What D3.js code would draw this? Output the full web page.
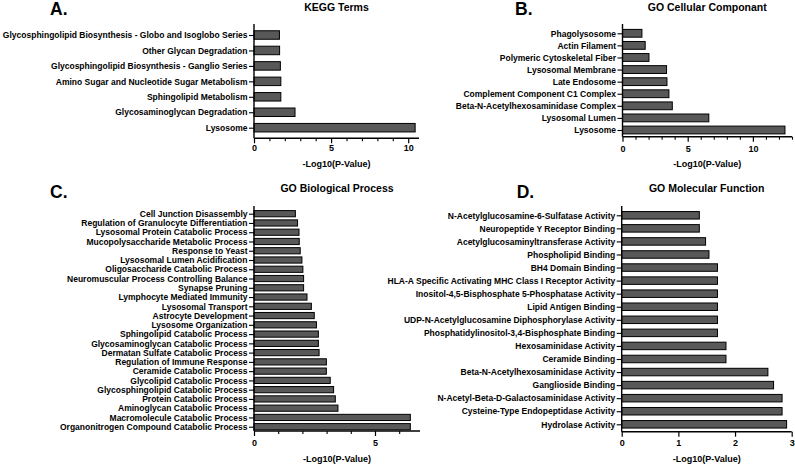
<!DOCTYPE html>
<html><head><meta charset="utf-8">
<script src="https://cdn.jsdelivr.net/npm/d3@7"></script>
<style>
html,body{margin:0;padding:0;background:#fff;}
svg{display:block;font-family:"Liberation Sans",Arial,sans-serif;}
</style></head>
<body>
<svg id="chart" width="795" height="464"></svg>
<script>
// ---------- DATA ----------
const keggTerms = ["Glycosphingolipid Biosynthesis - Globo and Isoglobo Series","Other Glycan Degradation","Glycosphingolipid Biosynthesis - Ganglio Series","Amino Sugar and Nucleotide Sugar Metabolism","Sphingolipid Metabolism","Glycosaminoglycan Degradation","Lysosome"];
const keggValues = [1.65,1.66,1.71,1.74,1.74,2.66,10.45];

const ccTerms = ["Phagolysosome","Actin Filament","Polymeric Cytoskeletal Fiber","Lysosomal Membrane","Late Endosome","Complement Component C1 Complex","Beta-N-Acetylhexosaminidase Complex","Lysosomal Lumen","Lysosome"];
const ccValues = [1.49,1.74,2.03,3.38,3.41,3.56,3.82,6.62,12.46];

const bpTerms = ["Cell Junction Disassembly","Regulation of Granulocyte Differentiation","Lysosomal Protein Catabolic Process","Mucopolysaccharide Metabolic Process","Response to Yeast","Lysosomal Lumen Acidification","Oligosaccharide Catabolic Process","Neuromuscular Process Controlling Balance","Synapse Pruning","Lymphocyte Mediated Immunity","Lysosomal Transport","Astrocyte Development","Lysosome Organization","Sphingolipid Catabolic Process","Glycosaminoglycan Catabolic Process","Dermatan Sulfate Catabolic Process","Regulation of Immune Response","Ceramide Catabolic Process","Glycolipid Catabolic Process","Glycosphingolipid Catabolic Process","Protein Catabolic Process","Aminoglycan Catabolic Process","Macromolecule Catabolic Process","Organonitrogen Compound Catabolic Process"];
const bpValues = [1.71,1.80,1.86,1.87,1.91,1.98,2.02,2.05,2.05,2.19,2.37,2.49,2.58,2.66,2.66,2.69,2.99,2.99,3.15,3.29,3.36,3.47,6.46,6.46];

const mfTerms = ["N-Acetylglucosamine-6-Sulfatase Activity","Neuropeptide Y Receptor Binding","Acetylglucosaminyltransferase Activity","Phospholipid Binding","BH4 Domain Binding","HLA-A Specific Activating MHC Class I Receptor Activity","Inositol-4,5-Bisphosphate 5-Phosphatase Activity","Lipid Antigen Binding","UDP-N-Acetylglucosamine Diphosphorylase Activity","Phosphatidylinositol-3,4-Bisphosphate Binding","Hexosaminidase Activity","Ceramide Binding","Beta-N-Acetylhexosaminidase Activity","Ganglioside Binding","N-Acetyl-Beta-D-Galactosaminidase Activity","Cysteine-Type Endopeptidase Activity","Hydrolase Activity"];
const mfValues = [1.37,1.37,1.48,1.54,1.69,1.69,1.69,1.69,1.69,1.69,1.84,1.84,2.58,2.68,2.83,2.83,2.91];

const panelLetters = ["A.","B.","C.","D."];
const panelTitles = ["KEGG Terms","GO Cellular Componant","GO Biological Process","GO Molecular Function"];
const xAxisTitle = "-Log10(P-Value)";
const keggTicks = [0,5,10];
const ccTicks = [0,5,10];
const bpTicks = [0,5];
const mfTicks = [0,1,2,3];

// ---------- LAYOUT ----------
const svg = d3.select("#chart");
const barFill = "#585858";

const panels = [
  {terms:keggTerms, values:keggValues, ticks:keggTicks, xMax:10.7, minor:1,
   x0:254, x1:419, axisTop:24, base:138.3, c0:35, c1:127.7, bh:8.5,
   letterX:50, letterY:15, titleY:10.5, tickY:151.5, axisTitleY:166.5},
  {terms:ccTerms, values:ccValues, ticks:ccTicks, xMax:13, minor:1,
   x0:622.5, x1:792, axisTop:24, base:136.7, c0:33.3, c1:130, bh:7.8,
   letterX:515, letterY:15, titleY:10.5, tickY:152, axisTitleY:166.5},
  {terms:bpTerms, values:bpValues, ticks:bpTicks, xMax:6.86, minor:1,
   x0:254, x1:420, axisTop:206, base:431, c0:213.7, c1:426.7, bh:6.2,
   letterX:50, letterY:198.3, titleY:191.7, tickY:446, axisTitleY:462},
  {terms:mfTerms, values:mfValues, ticks:mfTicks, xMax:3, minor:null,
   x0:621.7, x1:791.7, axisTop:206, base:431.7, c0:215.3, c1:424.3, bh:7.5,
   letterX:516.7, letterY:198.3, titleY:191.7, tickY:446.5, axisTitleY:461.5}
];

panels.forEach((p, i) => {
  const g = svg.append("g");
  const x = d3.scaleLinear().domain([0, p.xMax]).range([p.x0, p.x1]);
  const y = d3.scalePoint().domain(p.terms).range([p.c0, p.c1]);

  // bars
  g.selectAll("rect.bar").data(p.terms).join("rect")
    .attr("class","bar")
    .attr("x", x(0))
    .attr("y", d => y(d) - p.bh/2)
    .attr("width", (d,j) => x(p.values[j]) - x(0))
    .attr("height", p.bh)
    .attr("fill", barFill)
    .attr("stroke", "#000")
    .attr("stroke-width", 1);

  // y axis
  const yAxis = d3.axisLeft(y).tickSize(5).tickPadding(1.5).tickSizeOuter(0);
  const gy = g.append("g").attr("transform", `translate(${p.x0},0)`).call(yAxis);
  gy.select(".domain").remove();
  gy.selectAll(".tick line").attr("stroke","#000").attr("stroke-width",1.1);
  gy.selectAll(".tick text").attr("fill","#000").style("font-size","8.5px").style("font-weight","bold")
    .style("font-family","'Liberation Sans',Arial,sans-serif");
  g.append("line").attr("x1",p.x0).attr("x2",p.x0).attr("y1",p.axisTop).attr("y2",p.base)
    .attr("stroke","#000").attr("stroke-width",1.4);

  // x axis minor ticks
  if (p.minor) {
    const minors = d3.range(0, p.xMax + 1e-9, p.minor).filter(v => !p.ticks.includes(v));
    const gm = g.append("g").attr("transform", `translate(0,${p.base})`)
      .call(d3.axisBottom(x).tickValues(minors).tickSize(3).tickFormat(""));
    gm.select(".domain").remove();
    gm.selectAll(".tick line").attr("stroke","#000").attr("stroke-width",1.1);
  }
  // x axis majors
  const gx = g.append("g").attr("transform", `translate(0,${p.base})`)
    .call(d3.axisBottom(x).tickValues(p.ticks).tickSize(5).tickPadding(2.5).tickFormat(d3.format("d")));
  gx.select(".domain").remove();
  gx.selectAll(".tick line").attr("stroke","#000").attr("stroke-width",1.2);
  gx.selectAll(".tick text").attr("fill","#000").attr("dy",null).attr("y",null)
    .attr("y", p.tickY - p.base)
    .style("font-size","9px").style("font-weight","bold")
    .style("font-family","'Liberation Sans',Arial,sans-serif");
  g.append("line").attr("x1",p.x0).attr("x2",p.x1).attr("y1",p.base).attr("y2",p.base)
    .attr("stroke","#000").attr("stroke-width",1.4);

  // titles
  const cx = (p.x0 + p.x1) / 2;
  g.append("text").attr("x", cx).attr("y", p.titleY).attr("text-anchor","middle")
    .style("font-size","10.5px").style("font-weight","bold").text(panelTitles[i]);
  g.append("text").attr("x", cx).attr("y", p.axisTitleY).attr("text-anchor","middle")
    .style("font-size","9px").style("font-weight","bold").text(xAxisTitle);
  g.append("text").attr("x", p.letterX).attr("y", p.letterY)
    .style("font-size","17.5px").style("font-weight","bold").text(panelLetters[i]);
});
</script>
</body></html>
